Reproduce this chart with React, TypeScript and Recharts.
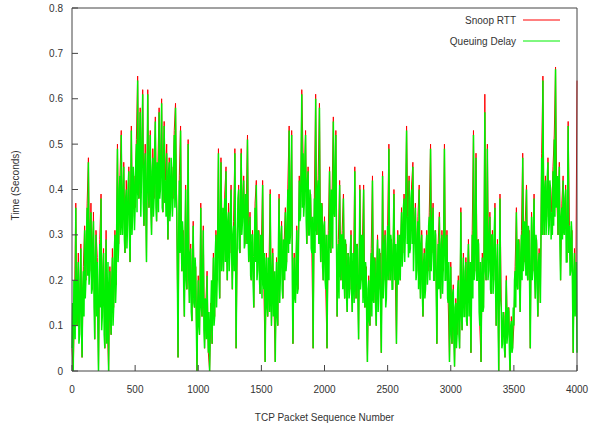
import React from 'react';
import { LineChart, Line, XAxis, YAxis, Legend } from 'recharts';

// queuing delay read every 5 packets, snoop RTT every 10 packets (0 .. 4000)
const DELAY_STEP = 5;
const RTT_STEP = 10;

const xTicks = [0, 500, 1000, 1500, 2000, 2500, 3000, 3500, 4000];
const yTicks = [0, 0.1, 0.2, 0.3, 0.4, 0.5, 0.6, 0.7, 0.8];
const seriesOrder = ['Snoop RTT', 'Queuing Delay'];

// Snoop RTT (seconds), 10 samples per row = 100 packets
const snoopRtt = [
  0.05, 0.0, 0.14, 0.37, 0.1, 0.26, 0.08, 0.28, 0.03, 0.23,
  0.32, 0.2, 0.37, 0.47, 0.22, 0.37, 0.18, 0.35, 0.07, 0.31,
  0.25, 0.0, 0.29, 0.39, 0.12, 0.27, 0.05, 0.31, 0.1, 0.0,
  0.23, 0.08, 0.27, 0.14, 0.31, 0.19, 0.5, 0.28, 0.43, 0.53,
  0.3, 0.46, 0.26, 0.42, 0.32, 0.45, 0.24, 0.54, 0.34, 0.43,
  0.36, 0.51, 0.65, 0.38, 0.58, 0.42, 0.62, 0.32, 0.5, 0.24,
  0.62, 0.36, 0.53, 0.3, 0.49, 0.38, 0.56, 0.33, 0.45, 0.58,
  0.4, 0.6, 0.35, 0.55, 0.42, 0.5, 0.29, 0.47, 0.36, 0.45,
  0.38, 0.53, 0.59, 0.35, 0.03, 0.43, 0.54, 0.22, 0.31, 0.12,
  0.41, 0.18, 0.51, 0.15, 0.28, 0.11, 0.33, 0.14, 0.23, 0.0,
  0.21, 0.08, 0.37, 0.12, 0.32, 0.05, 0.15, 0.22, 0.04, 0.0,
  0.15, 0.06, 0.26, 0.12, 0.31, 0.2, 0.49, 0.16, 0.47, 0.28,
  0.22, 0.39, 0.45, 0.2, 0.37, 0.26, 0.41, 0.18, 0.33, 0.49,
  0.05, 0.31, 0.41, 0.26, 0.49, 0.33, 0.43, 0.28, 0.37, 0.52,
  0.24, 0.35, 0.2, 0.31, 0.14, 0.37, 0.42, 0.22, 0.31, 0.17,
  0.28, 0.42, 0.18, 0.02, 0.26, 0.12, 0.23, 0.4, 0.1, 0.27,
  0.14, 0.02, 0.25, 0.1, 0.39, 0.2, 0.33, 0.16, 0.28, 0.36,
  0.24, 0.41, 0.54, 0.3, 0.53, 0.06, 0.26, 0.15, 0.32, 0.18,
  0.43, 0.34, 0.62, 0.48, 0.37, 0.53, 0.28, 0.45, 0.3, 0.39,
  0.26, 0.05, 0.39, 0.61, 0.3, 0.43, 0.59, 0.24, 0.37, 0.2,
  0.34, 0.18, 0.05, 0.31, 0.45, 0.26, 0.39, 0.56, 0.34, 0.53,
  0.12, 0.29, 0.42, 0.2, 0.31, 0.39, 0.16, 0.28, 0.13, 0.26,
  0.18, 0.31, 0.13, 0.23, 0.45, 0.16, 0.28, 0.07, 0.41, 0.2,
  0.28, 0.41, 0.14, 0.23, 0.02, 0.21, 0.1, 0.27, 0.43, 0.15,
  0.25, 0.1, 0.3, 0.18, 0.26, 0.04, 0.44, 0.2, 0.31, 0.16,
  0.32, 0.5, 0.2, 0.29, 0.18, 0.4, 0.22, 0.06, 0.31, 0.24,
  0.2, 0.36, 0.26, 0.39, 0.3, 0.54, 0.34, 0.43, 0.27, 0.41,
  0.46, 0.28, 0.37, 0.22, 0.34, 0.41, 0.16, 0.31, 0.12, 0.27,
  0.18, 0.31, 0.22, 0.35, 0.5, 0.26, 0.37, 0.2, 0.31, 0.06,
  0.28, 0.35, 0.16, 0.31, 0.22, 0.5, 0.2, 0.31, 0.15, 0.02,
  0.24, 0.06, 0.19, 0.01, 0.16, 0.08, 0.21, 0.05, 0.36, 0.09,
  0.26, 0.12, 0.25, 0.1, 0.29, 0.18, 0.04, 0.31, 0.53, 0.22,
  0.48, 0.2, 0.29, 0.1, 0.02, 0.26, 0.14, 0.61, 0.2, 0.5,
  0.22, 0.35, 0.17, 0.31, 0.2, 0.37, 0.1, 0.29, 0.0, 0.39,
  0.15, 0.06, 0.13, 0.03, 0.21, 0.08, 0.14, 0.0, 0.12, 0.05,
  0.1, 0.23, 0.36, 0.18, 0.29, 0.13, 0.31, 0.48, 0.24, 0.33,
  0.41, 0.2, 0.31, 0.05, 0.35, 0.22, 0.39, 0.16, 0.29, 0.12,
  0.27, 0.15, 0.48, 0.65, 0.3, 0.43, 0.34, 0.47, 0.32, 0.41,
  0.35, 0.45, 0.52, 0.67, 0.38, 0.3, 0.46, 0.2, 0.37, 0.43,
  0.3, 0.41, 0.24, 0.55, 0.32, 0.22, 0.31, 0.04, 0.27, 0.15,
  0.64,
];

// Queuing Delay (seconds), 20 samples per row = 100 packets
const queuingDelay = [
  0.05, 0.15, 0.0, 0.2, 0.13, 0.07, 0.36, 0.12, 0.1, 0.2, 0.24, 0.06, 0.08, 0.2, 0.27, 0.1, 0.03, 0.18, 0.22, 0.12,
  0.31, 0.16, 0.2, 0.3, 0.36, 0.21, 0.46, 0.19, 0.22, 0.32, 0.35, 0.17, 0.18, 0.29, 0.33, 0.14, 0.07, 0.25, 0.3, 0.12,
  0.24, 0.1, 0.0, 0.18, 0.28, 0.14, 0.38, 0.09, 0.12, 0.22, 0.26, 0.08, 0.05, 0.2, 0.29, 0.06, 0.1, 0.24, 0.0, 0.16,
  0.22, 0.12, 0.08, 0.2, 0.25, 0.1, 0.14, 0.26, 0.3, 0.15, 0.19, 0.35, 0.49, 0.24, 0.28, 0.4, 0.43, 0.3, 0.52, 0.33,
  0.3, 0.4, 0.45, 0.29, 0.26, 0.38, 0.4, 0.27, 0.32, 0.41, 0.44, 0.3, 0.24, 0.38, 0.53, 0.3, 0.34, 0.45, 0.42, 0.31,
  0.36, 0.46, 0.5, 0.35, 0.64, 0.4, 0.38, 0.5, 0.57, 0.34, 0.42, 0.52, 0.61, 0.37, 0.32, 0.45, 0.48, 0.36, 0.24, 0.44,
  0.61, 0.4, 0.36, 0.47, 0.52, 0.35, 0.3, 0.44, 0.47, 0.34, 0.38, 0.49, 0.55, 0.36, 0.33, 0.46, 0.44, 0.35, 0.57, 0.38,
  0.4, 0.48, 0.59, 0.36, 0.35, 0.46, 0.54, 0.37, 0.42, 0.34, 0.48, 0.38, 0.29, 0.44, 0.46, 0.33, 0.36, 0.47, 0.44, 0.34,
  0.38, 0.46, 0.52, 0.36, 0.58, 0.4, 0.35, 0.2, 0.03, 0.3, 0.42, 0.26, 0.53, 0.3, 0.22, 0.33, 0.3, 0.18, 0.12, 0.28,
  0.4, 0.2, 0.18, 0.3, 0.5, 0.2, 0.15, 0.26, 0.27, 0.13, 0.11, 0.24, 0.32, 0.15, 0.14, 0.25, 0.22, 0.1, 0.0, 0.14,
  0.2, 0.1, 0.08, 0.18, 0.36, 0.14, 0.12, 0.22, 0.31, 0.09, 0.05, 0.16, 0.15, 0.07, 0.21, 0.1, 0.04, 0.13, 0.0, 0.08,
  0.14, 0.2, 0.06, 0.17, 0.25, 0.1, 0.12, 0.26, 0.3, 0.14, 0.2, 0.32, 0.48, 0.2, 0.16, 0.33, 0.46, 0.22, 0.28, 0.36,
  0.22, 0.34, 0.38, 0.24, 0.44, 0.27, 0.2, 0.33, 0.35, 0.22, 0.26, 0.36, 0.4, 0.25, 0.18, 0.3, 0.32, 0.22, 0.48, 0.3,
  0.05, 0.22, 0.3, 0.38, 0.4, 0.27, 0.26, 0.37, 0.48, 0.3, 0.33, 0.38, 0.42, 0.27, 0.28, 0.39, 0.36, 0.28, 0.51, 0.3,
  0.24, 0.31, 0.34, 0.21, 0.2, 0.3, 0.3, 0.19, 0.14, 0.28, 0.36, 0.24, 0.41, 0.2, 0.22, 0.31, 0.3, 0.2, 0.17, 0.3,
  0.28, 0.16, 0.41, 0.2, 0.18, 0.26, 0.02, 0.2, 0.25, 0.14, 0.12, 0.25, 0.22, 0.13, 0.39, 0.18, 0.1, 0.22, 0.26, 0.12,
  0.14, 0.22, 0.02, 0.16, 0.24, 0.12, 0.1, 0.27, 0.38, 0.15, 0.2, 0.3, 0.32, 0.18, 0.16, 0.29, 0.28, 0.2, 0.35, 0.22,
  0.24, 0.34, 0.4, 0.26, 0.53, 0.28, 0.3, 0.4, 0.52, 0.2, 0.06, 0.2, 0.25, 0.16, 0.15, 0.24, 0.31, 0.17, 0.18, 0.3,
  0.42, 0.33, 0.34, 0.46, 0.61, 0.36, 0.48, 0.34, 0.37, 0.47, 0.52, 0.33, 0.28, 0.42, 0.44, 0.3, 0.3, 0.4, 0.38, 0.27,
  0.26, 0.34, 0.05, 0.28, 0.38, 0.26, 0.6, 0.32, 0.3, 0.4, 0.42, 0.28, 0.58, 0.3, 0.24, 0.37, 0.36, 0.23, 0.2, 0.32,
  0.33, 0.2, 0.18, 0.3, 0.05, 0.22, 0.3, 0.2, 0.44, 0.3, 0.26, 0.4, 0.38, 0.27, 0.55, 0.36, 0.34, 0.44, 0.52, 0.28,
  0.12, 0.24, 0.28, 0.16, 0.41, 0.22, 0.2, 0.3, 0.3, 0.18, 0.38, 0.2, 0.16, 0.29, 0.27, 0.16, 0.13, 0.26, 0.25, 0.16,
  0.18, 0.27, 0.3, 0.17, 0.13, 0.26, 0.22, 0.15, 0.44, 0.2, 0.16, 0.28, 0.27, 0.16, 0.07, 0.22, 0.4, 0.18, 0.2, 0.3,
  0.28, 0.15, 0.4, 0.18, 0.14, 0.24, 0.22, 0.1, 0.02, 0.18, 0.2, 0.11, 0.1, 0.22, 0.26, 0.12, 0.42, 0.16, 0.15, 0.25,
  0.24, 0.14, 0.1, 0.24, 0.29, 0.13, 0.18, 0.27, 0.25, 0.12, 0.04, 0.2, 0.43, 0.16, 0.2, 0.28, 0.3, 0.14, 0.16, 0.26,
  0.32, 0.2, 0.49, 0.24, 0.2, 0.3, 0.28, 0.18, 0.18, 0.3, 0.39, 0.2, 0.22, 0.28, 0.06, 0.22, 0.3, 0.19, 0.24, 0.3,
  0.2, 0.3, 0.35, 0.23, 0.26, 0.36, 0.38, 0.24, 0.3, 0.4, 0.53, 0.28, 0.34, 0.25, 0.42, 0.26, 0.27, 0.38, 0.4, 0.28,
  0.45, 0.22, 0.28, 0.33, 0.36, 0.2, 0.22, 0.3, 0.33, 0.18, 0.4, 0.22, 0.16, 0.28, 0.3, 0.17, 0.12, 0.24, 0.26, 0.16,
  0.18, 0.28, 0.3, 0.19, 0.22, 0.32, 0.34, 0.2, 0.49, 0.22, 0.26, 0.33, 0.36, 0.2, 0.2, 0.31, 0.3, 0.18, 0.06, 0.22,
  0.28, 0.18, 0.34, 0.2, 0.16, 0.28, 0.3, 0.17, 0.22, 0.3, 0.49, 0.2, 0.2, 0.29, 0.3, 0.16, 0.15, 0.24, 0.02, 0.14,
  0.23, 0.08, 0.06, 0.17, 0.18, 0.07, 0.01, 0.14, 0.15, 0.05, 0.08, 0.18, 0.2, 0.08, 0.05, 0.17, 0.35, 0.12, 0.09, 0.2,
  0.25, 0.12, 0.12, 0.22, 0.24, 0.11, 0.1, 0.23, 0.28, 0.12, 0.18, 0.24, 0.04, 0.18, 0.3, 0.16, 0.52, 0.2, 0.22, 0.32,
  0.47, 0.2, 0.2, 0.29, 0.28, 0.13, 0.1, 0.24, 0.02, 0.18, 0.25, 0.13, 0.14, 0.3, 0.57, 0.22, 0.2, 0.3, 0.49, 0.2,
  0.22, 0.3, 0.34, 0.18, 0.17, 0.3, 0.3, 0.17, 0.2, 0.31, 0.36, 0.18, 0.1, 0.24, 0.28, 0.12, 0.0, 0.2, 0.38, 0.16,
  0.14, 0.05, 0.06, 0.13, 0.12, 0.05, 0.03, 0.12, 0.2, 0.06, 0.08, 0.14, 0.13, 0.04, 0.0, 0.1, 0.11, 0.04, 0.05, 0.14,
  0.1, 0.2, 0.22, 0.14, 0.35, 0.2, 0.18, 0.29, 0.28, 0.18, 0.13, 0.26, 0.3, 0.2, 0.47, 0.22, 0.24, 0.33, 0.32, 0.21,
  0.4, 0.22, 0.2, 0.32, 0.3, 0.18, 0.05, 0.24, 0.34, 0.2, 0.22, 0.32, 0.38, 0.2, 0.16, 0.3, 0.28, 0.18, 0.12, 0.24,
  0.26, 0.2, 0.15, 0.3, 0.47, 0.3, 0.64, 0.36, 0.3, 0.4, 0.42, 0.3, 0.34, 0.43, 0.46, 0.3, 0.32, 0.42, 0.4, 0.29,
  0.35, 0.3, 0.44, 0.32, 0.51, 0.34, 0.665, 0.36, 0.38, 0.43, 0.3, 0.4, 0.45, 0.28, 0.2, 0.34, 0.36, 0.29, 0.42, 0.31,
  0.3, 0.38, 0.4, 0.24, 0.24, 0.35, 0.54, 0.26, 0.32, 0.21, 0.22, 0.33, 0.3, 0.16, 0.04, 0.22, 0.26, 0.12, 0.15, 0.24,
  0.04,
];

// RTT samples fall on every other delay sample; the gaps are bridged by connectNulls
const chartData = queuingDelay.map((q, i) => ({
  seq: i * DELAY_STEP,
  queue: q,
  snoop: (i * DELAY_STEP) % RTT_STEP === 0 ? snoopRtt[(i * DELAY_STEP) / RTT_STEP] : null,
}));

const AXIS = '#444';
const TEXT = '#333';
const FONT = '"Liberation Sans", Arial, sans-serif';

const YTitle = ({ viewBox }: any) => {
  const cx = viewBox.x + 15;
  const cy = viewBox.y + viewBox.height / 2 - 4;
  return (
    <text x={cx} y={cy} transform={`rotate(-90 ${cx} ${cy})`} textAnchor="middle"
      dominantBaseline="central" fontSize={10} fill={TEXT}>
      Time (Seconds)
    </text>
  );
};

const XTitle = ({ viewBox }: any) => (
  <text x={viewBox.x + viewBox.width / 2} y={viewBox.y + 46} textAnchor="middle"
    dominantBaseline="central" fontSize={10} fill={TEXT}>
    TCP Packet Sequence Number
  </text>
);

// gnuplot style key: label right-aligned, sample line after it
const KeyBox = ({ payload }: any) => {
  const items = seriesOrder
    .map((name) => (payload || []).find((p: any) => p.value === name))
    .filter(Boolean);
  return (
    <svg width={200} height={52}>
      {items.map((p: any, i: number) => (
        <g key={p.value}>
          <text x={136} y={20 + i * 21} textAnchor="end" dominantBaseline="central"
            fontSize={10} fill={TEXT} fontFamily={FONT}>
            {p.value}
          </text>
          <line x1={143} x2={180} y1={20 + i * 21} y2={20 + i * 21} stroke={p.color} strokeWidth={1} />
        </g>
      ))}
    </svg>
  );
};

export default function App() {
  return (
    <div style={{ position: 'absolute', left: 0, top: 0, fontFamily: FONT, background: '#fff' }}>
      <LineChart width={589} height={430} data={chartData}
        margin={{ top: 0, right: 0, left: 0, bottom: 0 }}>
        <XAxis dataKey="seq" type="number" domain={[0, 4000]} ticks={xTicks} interval={0}
          height={59} stroke={AXIS} tickSize={-6} tickMargin={21}
          tick={{ fontSize: 10, fill: TEXT }} label={<XTitle />} />
        <XAxis xAxisId="top" dataKey="seq" type="number" orientation="top" domain={[0, 4000]}
          ticks={xTicks} interval={0} height={8} stroke={AXIS} tickSize={-6} tick={false} />
        <YAxis type="number" domain={[0, 0.8]} ticks={yTicks} interval={0} width={72}
          stroke={AXIS} tickSize={-6} tickMargin={15}
          tick={{ fontSize: 10, fill: TEXT }} label={<YTitle />} />
        <YAxis yAxisId="right" type="number" orientation="right" domain={[0, 0.8]} ticks={yTicks}
          interval={0} width={12} stroke={AXIS} tickSize={-6} tick={false} />
        <Legend layout="horizontal" verticalAlign="middle" align="center" content={<KeyBox />}
          wrapperStyle={{ position: 'absolute', left: 380, top: 0, width: 200, height: 52 }} />
        <Line name="Snoop RTT" type="linear" dataKey="snoop" stroke="#ff0000" strokeWidth={1}
          connectNulls dot={false} isAnimationActive={false} />
        <Line name="Queuing Delay" type="linear" dataKey="queue" stroke="#00f000" strokeWidth={1.5}
          dot={false} isAnimationActive={false} />
      </LineChart>
    </div>
  );
}
